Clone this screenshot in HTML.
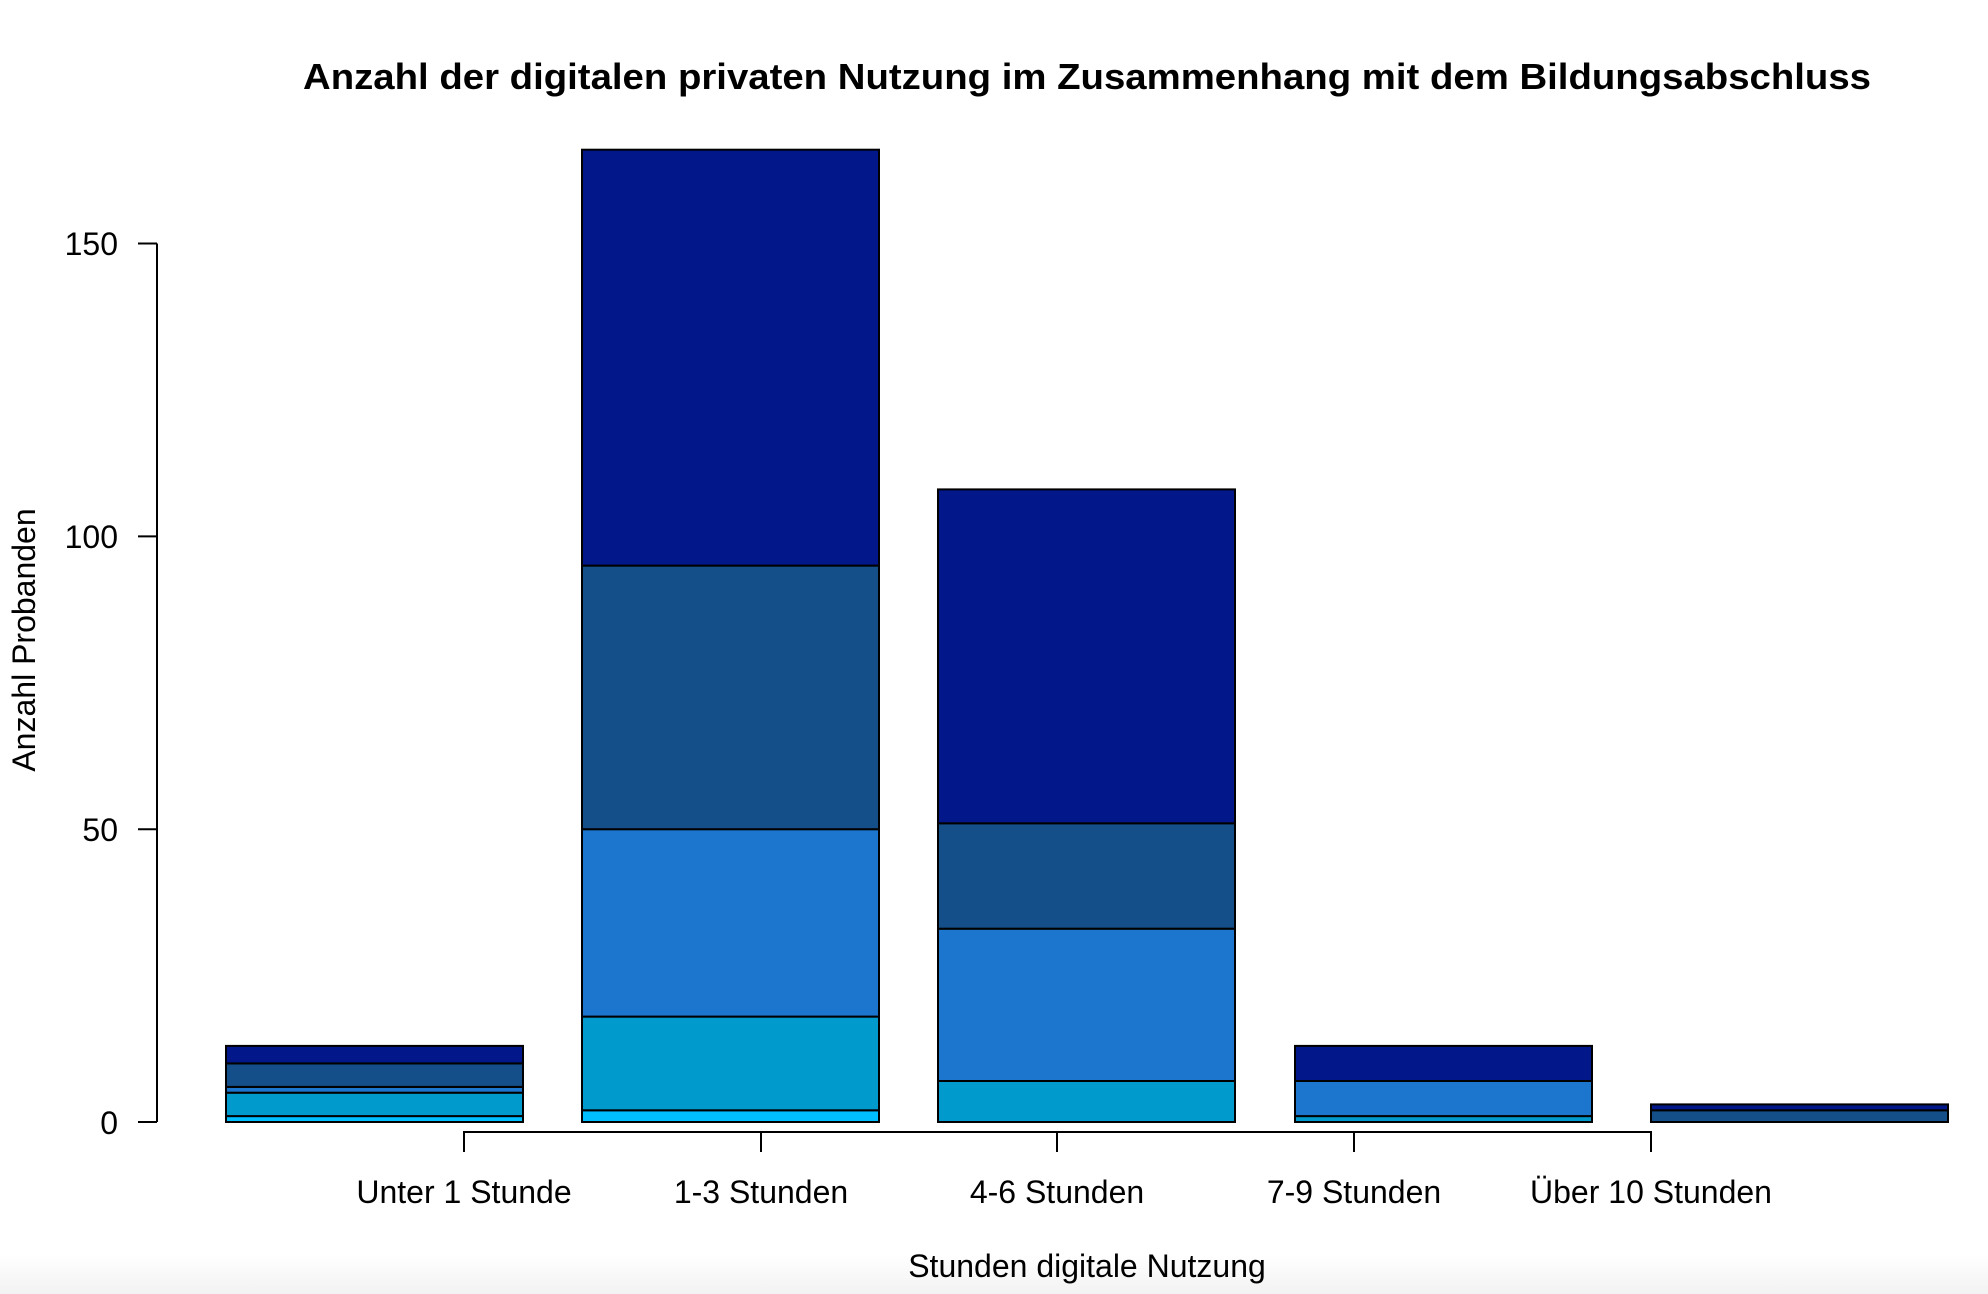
<!DOCTYPE html>
<html><head><meta charset="utf-8"><style>html,body{margin:0;padding:0;background:#fff}svg{display:block}</style></head>
<body>
<svg width="1988" height="1294" xmlns="http://www.w3.org/2000/svg" font-family="Liberation Sans, Arial, sans-serif">
<defs><linearGradient id="g" x1="0" y1="0" x2="0" y2="1"><stop offset="0" stop-color="#ffffff"/><stop offset="1" stop-color="#f2f2f2"/></linearGradient></defs>
<rect x="0" y="1255" width="1988" height="39" fill="url(#g)"/>
<text x="303" y="89" font-size="36" font-weight="bold" textLength="1568" lengthAdjust="spacingAndGlyphs">Anzahl der digitalen privaten Nutzung im Zusammenhang mit dem Bildungsabschluss</text>
<g stroke="#000" stroke-width="2">
<rect x="226" y="1116.1" width="297" height="5.9" fill="#00BFFF"/>
<rect x="226" y="1092.7" width="297" height="23.4" fill="#009ACD"/>
<rect x="226" y="1086.9" width="297" height="5.8" fill="#1C76CD"/>
<rect x="226" y="1063.4" width="297" height="23.5" fill="#144F8A"/>
<rect x="226" y="1045.9" width="297" height="17.5" fill="#02188A"/>
<rect x="582" y="1110.3" width="297" height="11.7" fill="#00BFFF"/>
<rect x="582" y="1016.6" width="297" height="93.7" fill="#009ACD"/>
<rect x="582" y="829.2" width="297" height="187.4" fill="#1C76CD"/>
<rect x="582" y="565.6" width="297" height="263.6" fill="#144F8A"/>
<rect x="582" y="149.7" width="297" height="415.9" fill="#02188A"/>
<rect x="938" y="1081" width="297" height="41" fill="#009ACD"/>
<rect x="938" y="928.7" width="297" height="152.3" fill="#1C76CD"/>
<rect x="938" y="823.3" width="297" height="105.4" fill="#144F8A"/>
<rect x="938" y="489.4" width="297" height="333.9" fill="#02188A"/>
<rect x="1295" y="1116.1" width="297" height="5.9" fill="#009ACD"/>
<rect x="1295" y="1081" width="297" height="35.1" fill="#1C76CD"/>
<rect x="1295" y="1045.9" width="297" height="35.1" fill="#02188A"/>
<rect x="1651" y="1110.3" width="297" height="11.7" fill="#144F8A"/>
<rect x="1651" y="1104.4" width="297" height="5.9" fill="#02188A"/>
</g>
<g stroke="#000" stroke-width="2" fill="none">
<path d="M157 243.5V1122M138 243.5H157M138 536.4H157M138 829.2H157M138 1122H157"/>
<path d="M464 1152V1132H1651V1152M761 1132V1152M1057 1132V1152M1354 1132V1152"/>
</g>
<g font-size="32" text-anchor="end">
<text x="118" y="255">150</text><text x="118" y="548">100</text><text x="118" y="841">50</text><text x="118" y="1134">0</text>
</g>
<g font-size="32" text-anchor="middle">
<text x="464" y="1203">Unter 1 Stunde</text>
<text x="761" y="1203">1-3 Stunden</text>
<text x="1057" y="1203">4-6 Stunden</text>
<text x="1354" y="1203">7-9 Stunden</text>
<text x="1651" y="1203">Über 10 Stunden</text>
<text x="1087" y="1277">Stunden digitale Nutzung</text>
<text transform="translate(35,640) rotate(-90)">Anzahl Probanden</text>
</g>
</svg>
</body></html>
